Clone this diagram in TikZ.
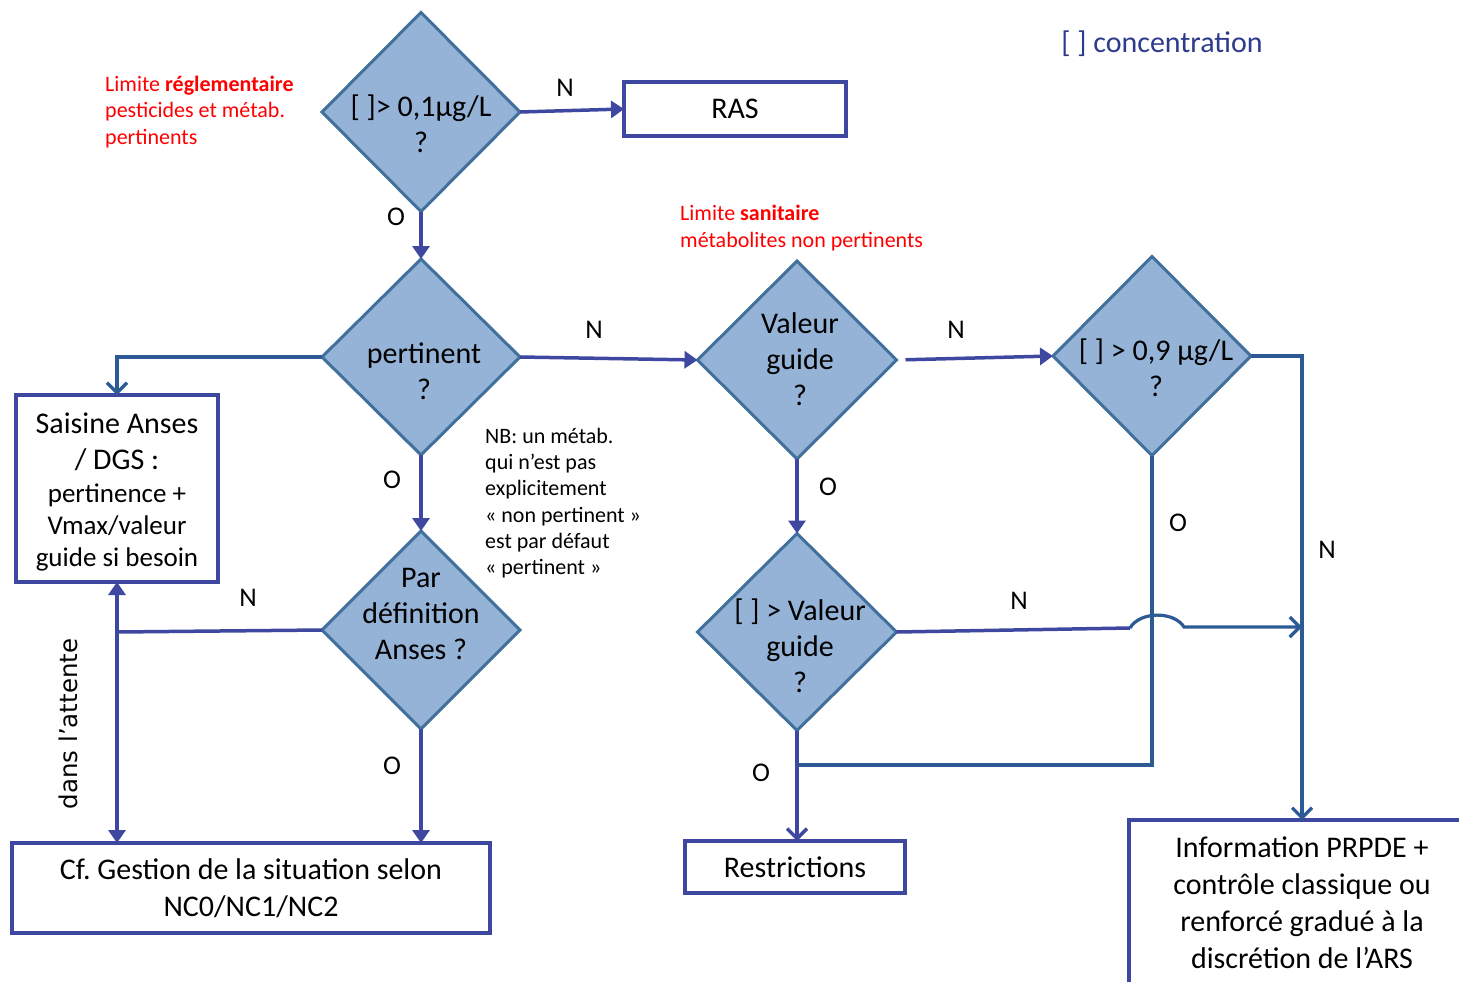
\documentclass[tikz,border=0pt]{standalone}
\usepackage{fontspec}
\setmainfont{Carlito}
\newfontfamily\vfont{DejaVu Sans}
\usetikzlibrary{shapes.geometric,arrows.meta}
\definecolor{indigo}{HTML}{3F48A0}
\definecolor{steel}{HTML}{2B5A94}
\definecolor{dborder}{HTML}{41709C}
\definecolor{dfill}{HTML}{95B3D7}
\definecolor{legendc}{HTML}{2E3B8C}
\frenchspacing
\begin{document}
\begin{tikzpicture}[x=1pt,y=-1pt,
  dec/.style={diamond,draw=dborder,fill=dfill,line width=3pt,inner sep=0pt,outer sep=0pt},
  box/.style={draw=indigo,line width=3.5pt,fill=white,inner sep=0pt,outer sep=0pt,align=center,font=\fontsize{30}{37}\selectfont},
  dtext/.style={align=center,inner sep=0pt,font=\fontsize{30}{36}\selectfont},
  lbl/.style={inner sep=0pt,font=\fontsize{27}{30}\selectfont},
  note/.style={inner sep=0pt,align=left,anchor=west,font=\fontsize{22}{26.3}\selectfont},
  iarrow/.style={draw=indigo,line width=3.5pt,-{Triangle[length=13pt,width=17pt]}},
  iline/.style={draw=indigo,line width=3.5pt},
  sarrow/.style={draw=steel,line width=3.2pt,-{Straight Barb[length=10pt,width=20pt]}},
  sline/.style={draw=steel,line width=3.2pt},
]
\useasboundingbox (0,0) rectangle (1459,982);

% legend and notes
\node[inner sep=0pt,text=legendc,font=\fontsize{30}{34}\selectfont] (legend) at (1162,44) {[ ] concentration};
\node[note,text=red] (note1) at (105,112) {Limite \textbf{réglementaire}\\pesticides et métab.\\pertinents};
\node[note,text=red] (note2) at (680,228) {Limite \textbf{sanitaire}\\métabolites non pertinents};
\node[note] (nb) at (485,503) {NB: un métab.\\qui n’est pas\\explicitement\\« non pertinent »\\est par défaut\\« pertinent »};
\node[inner sep=0pt,rotate=90,font=\vfont\fontsize{24.5}{28}\selectfont] (attente) at (68,724) {dans l’attente};

% decisions
\node[dec,minimum width=198pt,minimum height=199pt] (d1) at (421,112) {};
\node[dec,minimum width=198pt,minimum height=196pt] (d2) at (421,357) {};
\node[dec,minimum width=198pt,minimum height=198pt] (d3) at (421,630) {};
\node[dec,minimum width=199pt,minimum height=198pt] (d4) at (797,360) {};
\node[dec,minimum width=198pt,minimum height=199pt] (d5) at (1152,356) {};
\node[dec,minimum width=199pt,minimum height=197pt] (d6) at (797,632) {};

\node[dtext] (t1) at (421,124) {[ ]> 0,1µg/L\\?};
\node[dtext] (t2) at (424,371) {pertinent\\?};
\node[dtext] (t3) at (421,614) {Par\\définition\\Anses ?};
\node[dtext] (t4) at (800,359) {Valeur\\guide\\?};
\node[dtext] (t5) at (1156,368) {[ ] > 0,9 µg/L\\?};
\node[dtext] (t6) at (800,646) {[ ] > Valeur\\guide\\?};

% boxes
\node[box,minimum width=222pt,minimum height=54pt] (ras) at (735,109) {RAS};
\node[box,minimum width=202pt,minimum height=187pt,font=\fontsize{27}{32}\selectfont] (sais) at (117,488.5)
  {\fontsize{30}{37}\selectfont\rule{0pt}{28pt}Saisine Anses\\[4pt]\fontsize{30}{37}\selectfont / DGS :\\[1pt]pertinence +\\Vmax/valeur\\guide si besoin};
\node[box,minimum width=478pt,minimum height=90pt] (cf) at (251,888) {Cf. Gestion de la situation selon\\NC0/NC1/NC2};
\node[box,minimum width=220pt,minimum height=52pt] (restr) at (795,867) {Restrictions};
\node[box,minimum width=346pt,minimum height=166pt] (info) at (1302,903)
  {Information PRPDE +\\contrôle classique ou\\renforcé gradué à la\\discrétion de l’ARS};

% helper coordinates
\coordinate (j1) at (117,632);
\coordinate (j2) at (797,765);
\coordinate (hs) at (1130,628);
\coordinate (he) at (1184,627);
\coordinate (j3) at (1302,627);

% connectors
\draw[iarrow] (d1.east) -- (ras.west);
\draw[iarrow] (d1.south) -- (d2.north);
\draw[iarrow] (d2.east) -- (d4.west);
\draw[sarrow] (d2.west) -| (sais.north);
\draw[iarrow] (d2.south) -- (d3.north);
\draw[iline] (d3.west) -- (j1);
\draw[draw=indigo,line width=3.5pt,{Triangle[length=13pt,width=17pt]}-{Triangle[length=13pt,width=17pt]}] (sais.south) -- (sais.south |- cf.north);
\draw[iarrow] (d3.south) -- (d3.south |- cf.north);
\draw[iarrow,shorten <=9pt] (d4.east) -- (d5.west);
\draw[iarrow] (d4.south) -- (d6.north);
\draw[sarrow] (d5.east) -| (info.north);
\draw[sline] (d5.south) |- (j2);
\draw[draw=indigo,line width=3.5pt,-{Straight Barb[length=10pt,width=20pt]}] (d6.south) -- (d6.south |- restr.north);
\draw[iline] (d6.east) -- (hs);
\draw[sarrow] (hs) .. controls (1140,611) and (1174,611) .. (he) -- (j3);

% labels
\node[lbl] (n1) at (565,88) {N};
\node[lbl] (o1) at (396,217) {O};
\node[lbl] (n2) at (594,330) {N};
\node[lbl] (o2) at (392,480) {O};
\node[lbl] (n3) at (248,598) {N};
\node[lbl] (o3) at (392,766) {O};
\node[lbl] (n4) at (956,330) {N};
\node[lbl] (o4) at (828,487) {O};
\node[lbl] (n5) at (1019,601) {N};
\node[lbl] (o5) at (1178,523) {O};
\node[lbl] (n6) at (1327,550) {N};
\node[lbl] (o6) at (761,773) {O};
\end{tikzpicture}
\end{document}
